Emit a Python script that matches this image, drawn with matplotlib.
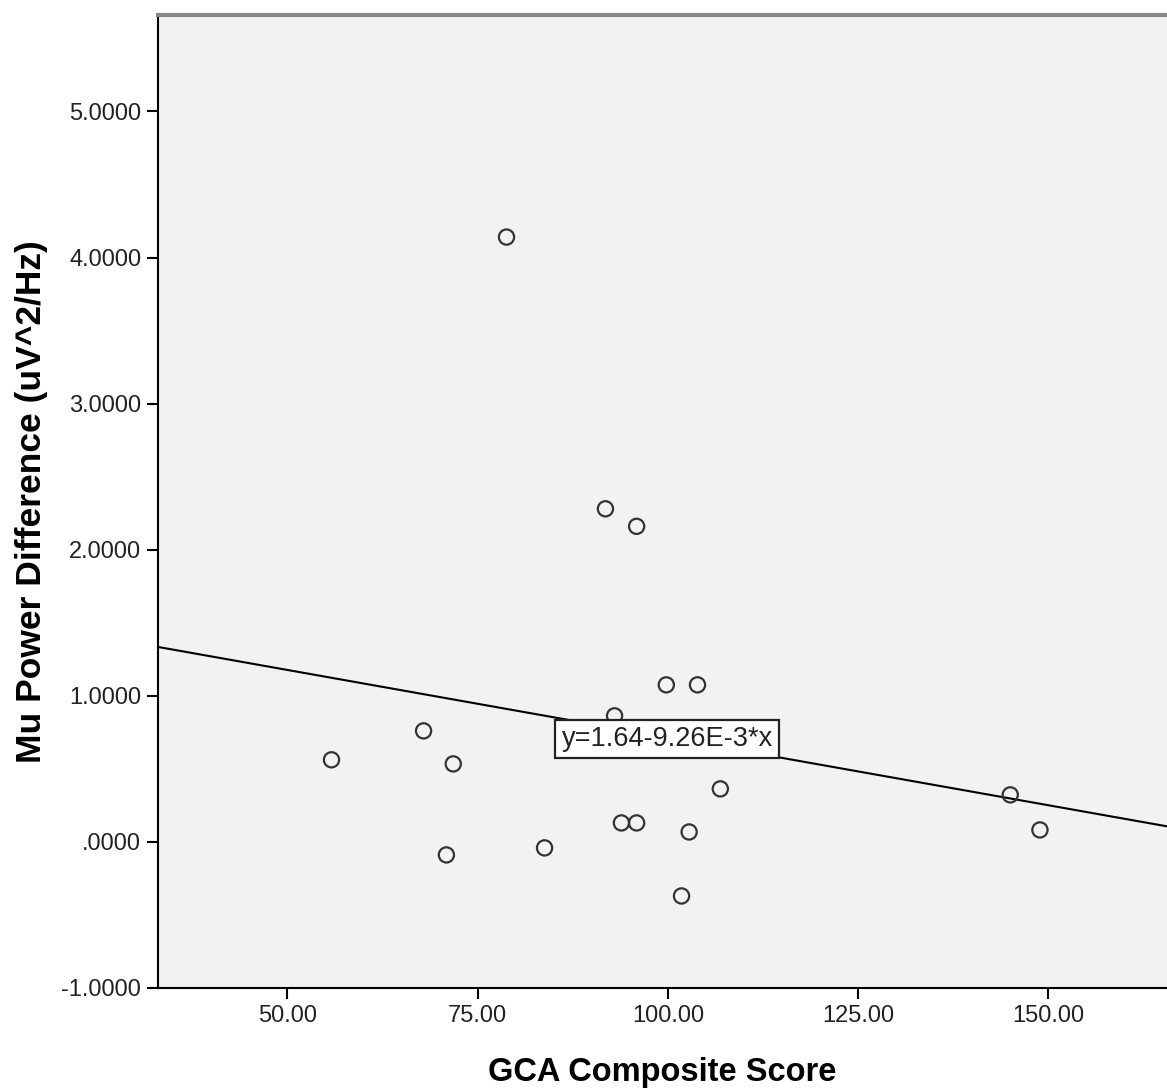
import matplotlib
matplotlib.use("Agg")
import matplotlib.pyplot as plt
from matplotlib.ticker import FuncFormatter

plt.rcParams['font.family'] = ['Liberation Sans', 'DejaVu Sans']

gca_score = [55.8, 67.9, 71.8, 70.9, 78.8, 83.8, 91.8, 95.9, 93.0, 93.9, 95.9,
             99.8, 103.9, 106.9, 102.8, 101.8, 145.0, 148.9]
mu_power = [0.562, 0.760, 0.534, -0.089, 4.14, -0.041, 2.28, 2.16, 0.863, 0.130, 0.130,
            1.075, 1.075, 0.363, 0.068, -0.37, 0.322, 0.082]
intercept = 1.64
slope = -9.26e-3
fit_label = "y=1.64-9.26E-3*x"
x_ticks = [50, 75, 100, 125, 150]
y_ticks = [-1, 0, 1, 2, 3, 4, 5]

fig = plt.figure(figsize=(11.67, 10.91), dpi=100)
ax = fig.add_axes([158/1167, 1-988/1091, 1-158/1167, (988-15)/1091])
ax.set_facecolor('#f2f2f2')
xlim = (33.0, 165.6)
ylim = (-1.0, 5.66)
ax.set_xlim(*xlim)
ax.set_ylim(*ylim)

ax.scatter(gca_score, mu_power, s=120, facecolors='none', edgecolors='#333333',
           linewidths=1.6, zorder=3)
ax.plot(list(xlim), [intercept + slope * xlim[0], intercept + slope * xlim[1]],
        color='black', lw=1.5, zorder=2)

ax.text(99.9, 0.705, fit_label, fontsize=19.5, ha='center', va='center', zorder=4,
        color='#222222',
        bbox=dict(boxstyle='square,pad=0.22', facecolor='white', edgecolor='#222222', lw=1.6))

ax.set_xticks(x_ticks)
ax.set_yticks(y_ticks)
ax.xaxis.set_major_formatter(FuncFormatter(lambda v, p: f"{v:.2f}"))

def yfmt(v, p):
    s = f"{v:.4f}"
    if s.startswith("0."):
        s = s[1:]
    elif s.startswith("-0."):
        s = "-" + s[2:]
    return s
ax.yaxis.set_major_formatter(FuncFormatter(yfmt))
ax.tick_params(axis='both', length=8, width=1.5, labelsize=17, colors='black',
               labelcolor='#222222', pad=4)

for side in ['left', 'bottom']:
    ax.spines[side].set_color('black')
    ax.spines[side].set_linewidth(1.5)
ax.spines['top'].set_color('#888888')
ax.spines['top'].set_linewidth(3)
ax.spines['right'].set_visible(False)

ax.set_xlabel("GCA Composite Score", fontsize=23.5, fontweight='bold', labelpad=22)
ax.set_ylabel("Mu Power Difference (uV^2/Hz)", fontsize=25.5, fontweight='bold', labelpad=10)

fig.savefig("out.png", dpi=100)
